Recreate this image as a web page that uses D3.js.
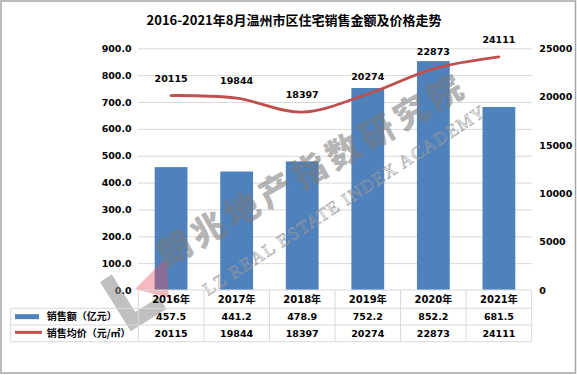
<!DOCTYPE html>
<html>
<head>
<meta charset="utf-8">
<script src="https://cdn.jsdelivr.net/npm/d3@7"></script>
<style>
  body { margin: 0; background: #fff; }
  svg { display: block; }
</style>
</head>
<body>
<div id="chart"></div>
<script>
// data
const years = ["2016年", "2017年", "2018年", "2019年", "2020年", "2021年"];
const salesAmount = [457.5, 441.2, 478.9, 752.2, 852.2, 681.5]; // 亿元
const avgPrice = [20115, 19844, 18397, 20274, 22873, 24111]; // 元/㎡
const leftTicks = [0, 100, 200, 300, 400, 500, 600, 700, 800, 900];
const rightTicks = [0, 5000, 10000, 15000, 20000, 25000];
const seriesNames = ["销售额（亿元）", "销售均价（元/㎡）"];
const title = "2016-2021年8月温州市区住宅销售金额及价格走势";

const width = 577;
const height = 375;
const plotLeft = 138.3;
const plotRight = 531.7;
const plotTop = 48.3;
const plotBottom = 290;
const rowLines = [290, 308.3, 325, 341.7];
const legendLeft = 10.7;

const blue = "#4f81bd";
const red = "#c0504d";
const gridColor = "#d9d9d9";
const numFont = "'DejaVu Sans', 'Noto Sans CJK SC', sans-serif";
const cjkFont = "'Noto Sans CJK SC', 'DejaVu Sans', sans-serif";

const svg = d3
  .select("#chart")
  .append("svg")
  .attr("width", width)
  .attr("height", height);

// outer frame
svg
  .append("rect")
  .attr("x", 1)
  .attr("y", 1)
  .attr("width", width - 2.5)
  .attr("height", height - 3)
  .attr("fill", "#fff")
  .attr("stroke", "#a6a6a6")
  .attr("stroke-width", 1.5);

svg
  .append("text")
  .attr("x", 294)
  .attr("y", 20)
  .attr("dy", "0.35em")
  .attr("text-anchor", "middle")
  .style("font-family", cjkFont)
  .style("font-weight", "bold")
  .style("font-size", "13px")
  .text(title);

const x = d3
  .scaleBand()
  .domain(years)
  .range([plotLeft, plotRight])
  .paddingInner(0.5)
  .paddingOuter(0.25);
const yL = d3.scaleLinear().domain([0, 900]).range([plotBottom, plotTop]);
const yR = d3.scaleLinear().domain([0, 25000]).range([plotBottom, plotTop]);

// gridlines
svg
  .append("g")
  .attr("transform", `translate(${plotLeft},0)`)
  .call(
    d3.axisLeft(yL).tickValues(leftTicks.slice(1)).tickSize(-(plotRight - plotLeft)).tickFormat("")
  )
  .call((g) => g.select(".domain").remove())
  .call((g) => g.selectAll("line").attr("stroke", gridColor));

// left axis
svg
  .append("g")
  .attr("transform", `translate(${plotLeft},0)`)
  .call(d3.axisLeft(yL).tickValues(leftTicks).tickSize(0).tickPadding(6.6).tickFormat(d3.format(".1f")))
  .call((g) => g.select(".domain").remove())
  .call((g) =>
    g.selectAll("text").style("font-family", numFont).style("font-weight", "bold").style("font-size", "9.5px").attr("fill", "#000")
  );

// right axis
svg
  .append("g")
  .attr("transform", `translate(${plotRight},0)`)
  .call(d3.axisRight(yR).tickValues(rightTicks).tickSize(0).tickPadding(7.6).tickFormat(d3.format("d")))
  .call((g) => g.select(".domain").remove())
  .call((g) =>
    g.selectAll("text").style("font-family", numFont).style("font-weight", "bold").style("font-size", "9.5px").attr("fill", "#000")
  );

// bars
svg
  .append("g")
  .selectAll("rect")
  .data(years)
  .enter()
  .append("rect")
  .attr("x", (d) => x(d))
  .attr("width", x.bandwidth())
  .attr("y", (d, i) => yL(salesAmount[i]))
  .attr("height", (d, i) => plotBottom - yL(salesAmount[i]))
  .attr("fill", blue);

// watermark
const wm = svg.append("g").style("pointer-events", "none");
wm.append("g")
  .attr("transform", "translate(100,282) rotate(-32)")
  .append("path")
  .attr("d", "M0,0 h14 v44 h28 v14 h-42 Z")
  .attr("fill", "#8c8c8c")
  .attr("opacity", 0.55);
wm.append("polygon")
  .attr("points", "135,289 166,258 169,298")
  .attr("fill", "#e0505e")
  .attr("opacity", 0.4);
wm.append("text")
  .attr("transform", "translate(166,268) rotate(-30)")
  .style("font-family", cjkFont)
  .style("font-weight", "900")
  .style("font-size", "34px")
  .style("letter-spacing", "5px")
  .attr("fill", "#7a7a7a")
  .attr("opacity", 0.55)
  .text("朗兆地产指数研究院");
wm.append("text")
  .attr("transform", "translate(208,296) rotate(-33)")
  .style("font-family", "'Liberation Serif', serif")
  .style("font-size", "18px")
  .attr("textLength", 332)
  .attr("fill", "none")
  .attr("stroke", "#9a9a9a")
  .attr("stroke-width", 0.7)
  .attr("opacity", 0.8)
  .text("LZ REAL ESTATE INDEX ACADEMY");

// price line
const cx = (d) => x(d) + x.bandwidth() / 2;
const line = d3
  .line()
  .x((d) => cx(d))
  .y((d, i) => yR(avgPrice[i]))
  .curve(d3.curveCardinal.tension(0));
svg
  .append("path")
  .datum(years)
  .attr("d", line)
  .attr("fill", "none")
  .attr("stroke", red)
  .attr("stroke-width", 2.8)
  .attr("stroke-linecap", "round");

svg
  .append("g")
  .selectAll("text")
  .data(years)
  .enter()
  .append("text")
  .attr("x", (d) => cx(d))
  .attr("y", (d, i) => yR(avgPrice[i]) - 17)
  .attr("dy", "0.35em")
  .attr("text-anchor", "middle")
  .style("font-family", numFont)
  .style("font-weight", "bold")
  .style("font-size", "9.5px")
  .text((d, i) => avgPrice[i]);

// data table
const table = svg.append("g");
const step = x.step();
const colLeft = (d) => x(d) - (x.paddingInner() * step) / 2;

table
  .append("line")
  .attr("x1", plotLeft)
  .attr("x2", plotRight)
  .attr("y1", rowLines[0])
  .attr("y2", rowLines[0]);
rowLines.slice(1).forEach((yy) => {
  table.append("line").attr("x1", legendLeft).attr("x2", plotRight).attr("y1", yy).attr("y2", yy);
});
table.append("line").attr("x1", legendLeft).attr("x2", legendLeft).attr("y1", rowLines[1]).attr("y2", rowLines[3]);
years.forEach((d) => {
  table.append("line").attr("x1", colLeft(d)).attr("x2", colLeft(d)).attr("y1", rowLines[0]).attr("y2", rowLines[3]);
});
table.append("line").attr("x1", plotRight).attr("x2", plotRight).attr("y1", rowLines[0]).attr("y2", rowLines[3]);
table.selectAll("line").attr("stroke", gridColor).attr("stroke-width", 1);

const rowMid = (r) => (rowLines[r] + rowLines[r + 1]) / 2;
const rows = [
  { vals: years, size: "10px" },
  { vals: salesAmount.map((v) => v.toFixed(1)), size: "9.5px" },
  { vals: avgPrice.map(String), size: "9.5px" },
];
rows.forEach((row, r) => {
  table
    .append("g")
    .selectAll("text")
    .data(row.vals)
    .enter()
    .append("text")
    .attr("x", (d, i) => cx(years[i]))
    .attr("y", rowMid(r))
    .attr("dy", "0.36em")
    .attr("text-anchor", "middle")
    .style("font-family", numFont)
    .style("font-weight", "bold")
    .style("font-size", row.size)
    .text((d) => d);
});

// legend keys inside table
table.append("rect").attr("x", 15).attr("y", rowMid(1) - 2.5).attr("width", 24).attr("height", 5).attr("fill", blue);
table
  .append("line")
  .attr("x1", 15)
  .attr("x2", 42)
  .attr("y1", rowMid(2) - 1)
  .attr("y2", rowMid(2) - 1)
  .attr("stroke", red)
  .attr("stroke-width", 3);
seriesNames.forEach((name, i) => {
  table
    .append("text")
    .attr("x", 46.7)
    .attr("y", rowMid(i + 1))
    .attr("dy", "0.36em")
    .style("font-family", cjkFont)
    .style("font-weight", "bold")
    .style("font-size", "10px")
    .text(name);
});
</script>
</body>
</html>
